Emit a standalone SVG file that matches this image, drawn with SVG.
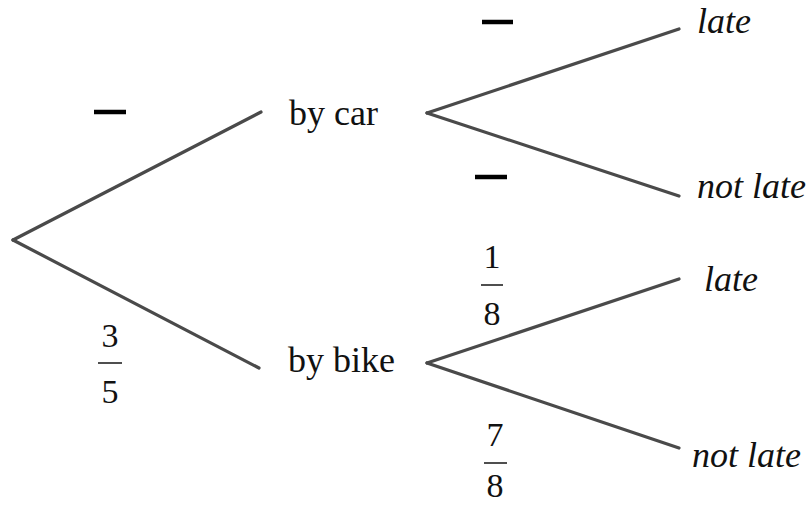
<svg xmlns="http://www.w3.org/2000/svg" width="811" height="506" viewBox="0 0 811 506">
  <style>
    .edge { stroke: #4a4a4a; stroke-width: 3.2; stroke-linecap: round; fill: none; }
    .blank { stroke: #000; stroke-width: 4.5; }
    .fbar { stroke: #222; stroke-width: 1.6; }
    .lbl { font-size: 36px; }
    .out { font-size: 36px; font-style: italic; }
    .num { font-size: 34px; text-anchor: middle; }
  </style>
  <rect width="811" height="506" fill="#fff"/>

  <!-- branches of the tree -->
  <g id="connectors">
    <line class="edge" x1="13" y1="240" x2="261" y2="112"/>
    <line class="edge" x1="13" y1="240" x2="259" y2="368"/>
    <line class="edge" x1="427" y1="113" x2="679" y2="29"/>
    <line class="edge" x1="427" y1="113" x2="679" y2="196"/>
    <line class="edge" x1="427" y1="363" x2="679" y2="279"/>
    <line class="edge" x1="427" y1="363" x2="679" y2="448"/>
  </g>

  <g font-family="Liberation Serif, Times New Roman, serif" fill="#111">
    <!-- probabilities on the branches -->
    <g id="probabilities">
      <line class="blank" x1="94" y1="112" x2="126" y2="112"/>
      <g id="p-bike">
        <text class="num" x="110" y="347">3</text>
        <line class="fbar" x1="98" y1="363" x2="122" y2="363"/>
        <text class="num" x="110" y="403">5</text>
      </g>
      <line class="blank" x1="482" y1="22" x2="513" y2="22"/>
      <line class="blank" x1="475" y1="177" x2="507" y2="177"/>
      <g id="p-bike-late">
        <text class="num" x="492" y="268">1</text>
        <line class="fbar" x1="481" y1="285" x2="503" y2="285"/>
        <text class="num" x="492" y="325">8</text>
      </g>
      <g id="p-bike-notlate">
        <text class="num" x="495" y="446">7</text>
        <line class="fbar" x1="484" y1="463" x2="507" y2="463"/>
        <text class="num" x="495" y="497">8</text>
      </g>
    </g>

    <g id="node-car"><text class="lbl" x="289" y="125">by car</text></g>
    <g id="node-bike"><text class="lbl" x="288" y="372">by bike</text></g>
    <g id="node-car-late"><text class="out" x="697" y="33">late</text></g>
    <g id="node-car-notlate"><text class="out" x="697" y="198">not late</text></g>
    <g id="node-bike-late"><text class="out" x="704" y="291">late</text></g>
    <g id="node-bike-notlate"><text class="out" x="692" y="467">not late</text></g>
  </g>
</svg>
